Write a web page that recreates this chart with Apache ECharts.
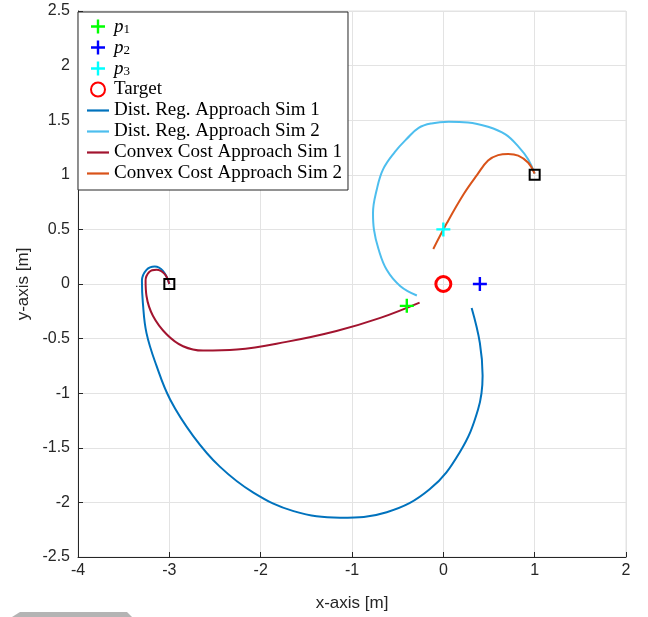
<!DOCTYPE html>
<html>
<head>
<meta charset="utf-8">
<script src="https://cdn.jsdelivr.net/npm/echarts@6/dist/echarts.min.js"></script>
<style>
  html, body { margin: 0; padding: 0; background: #fff; }
  #chart { width: 648px; height: 617px; }
</style>
</head>
<body>
<div id="chart"></div>
<script>
// Trajectories (metres)
const dist1X = [-3.00, -3.07, -3.16, -3.25, -3.30, -3.29, -3.25, -3.14, -2.99, -2.74, -2.45, -2.08, -1.64, -1.13, -0.62, -0.15, 0.18, 0.38, 0.43, 0.40, 0.31];
const dist1Y = [0.00, 0.12, 0.16, 0.13, 0.03, -0.17, -0.45, -0.75, -1.06, -1.39, -1.67, -1.91, -2.08, -2.14, -2.09, -1.88, -1.54, -1.15, -0.84, -0.54, -0.22];

const dist2X = [1.00, 0.93, 0.82, 0.68, 0.49, 0.27, 0.06, -0.13, -0.27, -0.40, -0.53, -0.66, -0.73, -0.77, -0.76, -0.71, -0.62, -0.47, -0.29];
const dist2Y = [1.01, 1.14, 1.26, 1.37, 1.44, 1.48, 1.485, 1.47, 1.43, 1.33, 1.21, 1.05, 0.86, 0.65, 0.50, 0.32, 0.13, -0.02, -0.105];

const conv1X = [-3.00, -3.05, -3.14, -3.22, -3.26, -3.25, -3.18, -3.03, -2.85, -2.63, -2.26, -1.72, -1.17, -0.69, -0.26];
const conv1Y = [0.00, 0.09, 0.13, 0.11, 0.03, -0.11, -0.29, -0.46, -0.57, -0.61, -0.60, -0.53, -0.43, -0.31, -0.17];

const conv2X = [1.00, 0.93, 0.82, 0.71, 0.60, 0.49, 0.37, 0.22, 0.04, -0.11];
const conv2Y = [1.01, 1.11, 1.175, 1.19, 1.18, 1.13, 1.00, 0.82, 0.56, 0.32];

// Fixed points
const p1 = [-0.4, -0.2];
const p2 = [0.4, 0.0];
const p3 = [0.0, 0.5];
const target = [0.0, 0.0];
const starts = [[-3, 0], [1, 1]];

// Axis ranges
const xMin = -4, xMax = 2, xStep = 1;
const yMin = -2.5, yMax = 2.5, yStep = 0.5;

const zip = (xs, ys) => xs.map((x, i) => [x, ys[i]]);
const plusPath = 'path://M5.8,0H8.2V5.8H14V8.2H8.2V14H5.8V8.2H0V5.8H5.8Z';
const lineIcon = 'path://M0,0H22V2.2H0Z';
const axisColor = '#262626';
const gridColor = '#e3e3e3';
const sansFont = 'Liberation Sans';
const serifFont = 'Liberation Serif';

function traj(name, xs, ys, color) {
  return {
    name: name, type: 'line', data: zip(xs, ys),
    showSymbol: false, symbol: 'none', smooth: 0.4,
    lineStyle: { color: color, width: 2 }, itemStyle: { color: color },
    z: 2
  };
}
function plus(name, pt, color) {
  return {
    name: name, type: 'scatter', data: [pt], symbol: plusPath, symbolSize: 14,
    itemStyle: { color: color, opacity: 1 }, z: 4
  };
}

const chart = echarts.init(document.getElementById('chart'), null, { renderer: 'canvas' });
chart.setOption({
  animation: false,
  backgroundColor: '#fff',
  grid: {
    left: 78, right: 22, top: 11, bottom: 59,
    show: true, borderColor: gridColor, borderWidth: 1
  },
  xAxis: {
    type: 'value', min: xMin, max: xMax, interval: xStep,
    name: 'x-axis [m]', nameLocation: 'middle', nameGap: 38,
    nameTextStyle: { fontFamily: sansFont, fontSize: 17, color: axisColor },
    axisLine: { onZero: false, lineStyle: { color: axisColor, width: 1 } },
    axisTick: { inside: true, length: 5, lineStyle: { color: axisColor } },
    axisLabel: { fontFamily: sansFont, fontSize: 16, color: axisColor, margin: 6 },
    splitLine: { show: true, lineStyle: { color: gridColor, width: 1 } }
  },
  yAxis: {
    type: 'value', min: yMin, max: yMax, interval: yStep,
    name: 'y-axis [m]', nameLocation: 'middle', nameGap: 46,
    nameTextStyle: { fontFamily: sansFont, fontSize: 17, color: axisColor },
    axisLine: { onZero: false, lineStyle: { color: axisColor, width: 1 } },
    axisTick: { inside: true, length: 5, lineStyle: { color: axisColor } },
    axisLabel: { fontFamily: sansFont, fontSize: 16, color: axisColor, margin: 8 },
    splitLine: { show: true, lineStyle: { color: gridColor, width: 1 } }
  },
  legend: {
    orient: 'vertical', left: 78, top: 12,
    padding: [5, 6, 7, 9], itemGap: 2,
    itemWidth: 22, itemHeight: 14,
    backgroundColor: '#fff', borderColor: axisColor, borderWidth: 1,
    data: [
      { name: 'p1' }, { name: 'p2' }, { name: 'p3' }, { name: 'Target' },
      { name: 'Dist. Reg. Approach Sim 1', icon: lineIcon },
      { name: 'Dist. Reg. Approach Sim 2', icon: lineIcon },
      { name: 'Convex Cost Approach Sim 1', icon: lineIcon },
      { name: 'Convex Cost Approach Sim 2', icon: lineIcon }
    ],
    formatter: function (name) {
      const m = /^p(\d)$/.exec(name);
      return m ? '{i|p}{s|' + m[1] + '}' : name;
    },
    textStyle: {
      fontFamily: serifFont, fontSize: 19, color: '#000', lineHeight: 19,
      rich: {
        i: { fontFamily: serifFont, fontSize: 19, fontStyle: 'italic', lineHeight: 19 },
        s: { fontFamily: serifFont, fontSize: 13, lineHeight: 8, verticalAlign: 'bottom' }
      }
    }
  },
  series: [
    traj('Dist. Reg. Approach Sim 1', dist1X, dist1Y, '#0072BD'),
    traj('Dist. Reg. Approach Sim 2', dist2X, dist2Y, '#4DBEEE'),
    traj('Convex Cost Approach Sim 1', conv1X, conv1Y, '#A2142F'),
    traj('Convex Cost Approach Sim 2', conv2X, conv2Y, '#D95319'),
    plus('p1', p1, '#00FF00'),
    plus('p2', p2, '#0000FF'),
    plus('p3', p3, '#00FFFF'),
    {
      name: 'Target', type: 'scatter', data: [target], symbol: 'circle', symbolSize: 15,
      itemStyle: { color: 'rgba(255,255,255,0)', borderColor: '#FF0000', borderWidth: 3, opacity: 1 }, z: 5
    },
    {
      name: 'start', type: 'scatter', data: starts, symbol: 'rect', symbolSize: 10,
      itemStyle: { color: 'rgba(255,255,255,0)', borderColor: '#000', borderWidth: 2, opacity: 1 }, z: 5
    }
  ],
  graphic: [{
    type: 'polygon', silent: true,
    shape: { points: [[12, 617], [20, 612], [127, 612], [132, 617]] },
    style: { fill: '#b4b4b4' }
  }]
});
</script>
</body>
</html>
